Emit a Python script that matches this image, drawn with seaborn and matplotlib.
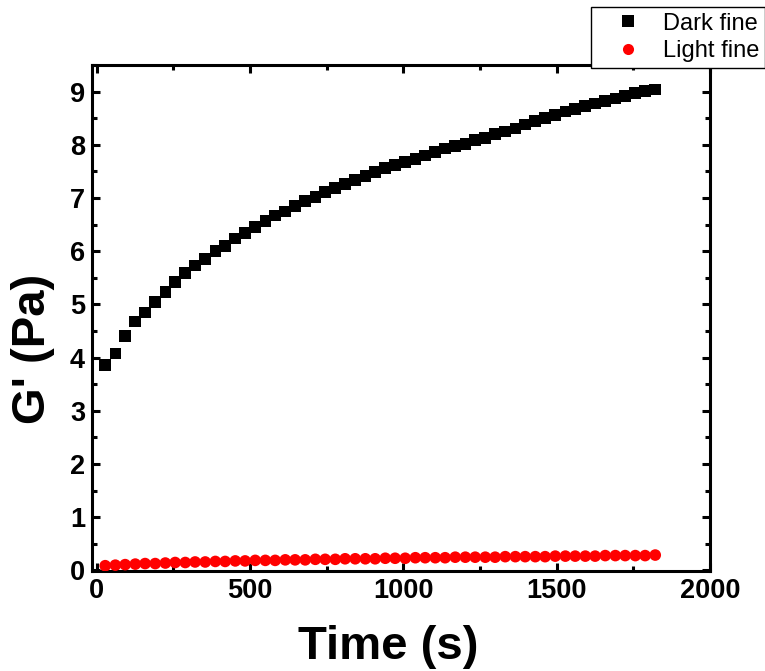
import matplotlib
matplotlib.use("Agg")
import matplotlib.pyplot as plt
from matplotlib.ticker import MultipleLocator
from matplotlib.lines import Line2D
import seaborn as sns
import pandas as pd

# Sampling times (s)
time_s = [28, 61, 93, 126, 158, 191, 224, 256, 289, 321, 354, 387, 419, 452,
          484, 517, 550, 582, 615, 647, 680, 713, 745, 778, 810, 843, 876, 908,
          941, 973, 1006, 1039, 1071, 1104, 1136, 1169, 1202, 1234, 1267, 1299,
          1332, 1365, 1397, 1430, 1462, 1495, 1528, 1560, 1593, 1625, 1658,
          1691, 1723, 1756, 1788, 1821]

# Storage modulus G' (Pa)
dark_fine = [3.86, 4.08, 4.41, 4.68, 4.85, 5.05, 5.23, 5.42, 5.59, 5.73, 5.85,
             6.00, 6.10, 6.24, 6.34, 6.46, 6.57, 6.67, 6.75, 6.85, 6.95, 7.02,
             7.12, 7.19, 7.27, 7.34, 7.42, 7.49, 7.57, 7.62, 7.68, 7.74, 7.80,
             7.87, 7.93, 7.98, 8.02, 8.09, 8.13, 8.20, 8.25, 8.31, 8.38, 8.45,
             8.51, 8.56, 8.63, 8.67, 8.73, 8.78, 8.83, 8.87, 8.92, 8.97, 9.01,
             9.04]
light_fine = [0.09, 0.10, 0.11, 0.12, 0.13, 0.13, 0.14, 0.15, 0.15, 0.16, 0.16,
              0.17, 0.17, 0.18, 0.18, 0.19, 0.19, 0.19, 0.20, 0.20, 0.20, 0.21,
              0.21, 0.21, 0.22, 0.22, 0.22, 0.22, 0.23, 0.23, 0.23, 0.24, 0.24,
              0.24, 0.24, 0.25, 0.25, 0.25, 0.25, 0.25, 0.26, 0.26, 0.26, 0.26,
              0.26, 0.27, 0.27, 0.27, 0.27, 0.27, 0.28, 0.28, 0.28, 0.28, 0.28,
              0.29]

series_names = ["Dark fine", "Light fine"]
series_colors = {"Dark fine": "black", "Light fine": "#ff0000"}
series_markers = {"Dark fine": "s", "Light fine": "o"}

df = pd.DataFrame({
    "Time": time_s * 2,
    "G": dark_fine + light_fine,
    "Sample": [series_names[0]] * len(dark_fine) + [series_names[1]] * len(light_fine),
})

sns.set_style("ticks")
plt.rcParams["font.family"] = ["Liberation Sans", "DejaVu Sans"]
plt.rcParams.update({
    "text.color": "black",
    "axes.labelcolor": "black",
    "xtick.color": "black",
    "ytick.color": "black",
    "axes.edgecolor": "black",
})

fig = plt.figure(figsize=(7.65, 6.71), dpi=100)
ax = fig.add_axes([0.1203, 0.149, 0.808, 0.754])

sns.scatterplot(data=df, x="Time", y="G", hue="Sample", style="Sample",
                palette=series_colors, markers=series_markers, s=70,
                linewidth=0, legend=False, ax=ax, zorder=3)

ax.set_xlim(-15, 2000)
ax.set_ylim(-0.01, 9.5)
ax.xaxis.set_major_locator(MultipleLocator(500))
ax.xaxis.set_minor_locator(MultipleLocator(250))
ax.yaxis.set_major_locator(MultipleLocator(1))
ax.yaxis.set_minor_locator(MultipleLocator(0.5))

for side in ["left", "right", "top", "bottom"]:
    ax.spines[side].set_visible(True)
    ax.spines[side].set_linewidth(2.2)
    ax.spines[side].set_color("black")

ax.tick_params(which="both", direction="in", top=True, right=True,
               color="black", labelcolor="black")
ax.tick_params(which="major", length=6, width=2.2, pad=5)
ax.tick_params(which="minor", length=3.5, width=2.2)
for lbl in ax.get_xticklabels() + ax.get_yticklabels():
    lbl.set_fontsize(19.5)
    lbl.set_fontweight("bold")

ax.set_xlabel("Time (s)", fontsize=34, fontweight="bold", color="black")
ax.set_ylabel("G' (Pa)", fontsize=34, fontweight="bold", color="black")
ax.xaxis.set_label_coords(0.48, -0.106)
ax.yaxis.set_label_coords(-0.06, 0.44)

handles = [Line2D([], [], linestyle="none", marker=series_markers[n],
                  markersize=8, markerfacecolor=series_colors[n],
                  markeredgewidth=0, color=series_colors[n]) for n in series_names]
leg = fig.legend(handles, series_names, loc="upper left",
                 bbox_to_anchor=(591 / 765, 1 - 7 / 671), bbox_transform=fig.transFigure,
                 frameon=True, fancybox=False, framealpha=1, edgecolor="black",
                 fontsize=17, handletextpad=0.17, borderpad=0.24, labelspacing=0.24,
                 handlelength=2.64, borderaxespad=0)
leg.get_frame().set_linewidth(1.0)
leg.set_zorder(10)
for t in leg.get_texts():
    t.set_color("black")

fig.savefig("out.png", dpi=100)
